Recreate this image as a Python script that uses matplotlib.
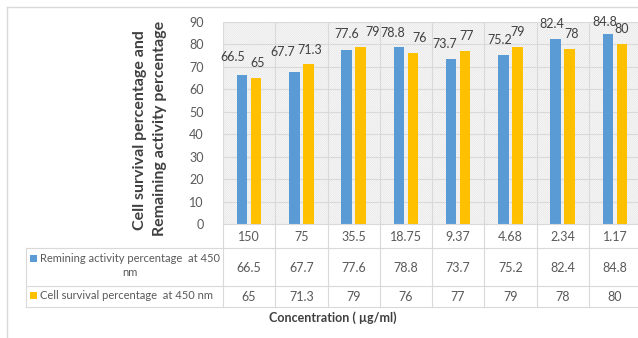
import matplotlib
matplotlib.use("Agg")
import matplotlib.pyplot as plt
import numpy as np
from matplotlib.patches import Rectangle
from matplotlib.lines import Line2D
from matplotlib.transforms import blended_transform_factory

plt.rcParams['font.family'] = ['Lato', 'DejaVu Sans']

# ---- data ----
concentrations = ["150", "75", "35.5", "18.75", "9.37", "4.68", "2.34", "1.17"]
remaining_activity = [66.5, 67.7, 77.6, 78.8, 73.7, 75.2, 82.4, 84.8]
cell_survival = [65, 71.3, 79, 76, 77, 79, 78, 80]
series_names = ["Remining activity percentage  at 450\nnm",
                "Cell survival percentage  at 450 nm"]
y_ticks = [0, 10, 20, 30, 40, 50, 60, 70, 80, 90]

# label nudges (pixels) for data labels: (dx, dy above bar top)
blue_nudge = [(-9, 18), (-12, 20), (0, 16), (-6, 14), (-6, 15), (-4, 15), (-4, 15), (-3, 12)]
yel_nudge = [(1, 15), (1, 14), (12, 15), (7, 15), (1, 15), (0, 15), (2, 15), (0, 15)]

BLUE = "#5B9BD5"
YEL = "#FFC000"
TXT = "#595959"
GRID = "#D9D9D9"

W, H = 638, 338
fig = plt.figure(figsize=(W / 100, H / 100), dpi=100)

def fx(x):
    return x / W

def fy(y):
    return 1 - y / H

left, right, top, bottom = 223, 641, 22, 224
ax = fig.add_axes([fx(left), fy(bottom), (right - left) / W, (bottom - top) / H])
n = len(concentrations)
x = np.arange(n)
ax.set_xlim(-0.5, n - 0.5)
ax.set_ylim(0, 90)

# hatched background
plt.rcParams['hatch.linewidth'] = 0.5
bg = Rectangle((0, 0), 1, 1, transform=ax.transAxes, facecolor="white",
               edgecolor="#E3E3E3", hatch="/" * 18, lw=0, zorder=0)
ax.add_patch(bg)

for t in y_ticks[1:]:
    ax.axhline(t, color=GRID, lw=0.8, zorder=1)
for b in np.arange(-0.5, n + 0.5, 1):
    ax.axvline(b, color=GRID, lw=0.8, zorder=1)

bw = 0.2
off = 0.135
ax.bar(x - off, remaining_activity, bw, color=BLUE, zorder=3)
ax.bar(x + off, cell_survival, bw, color=YEL, zorder=3)

for i in range(n):
    ax.annotate(f"{remaining_activity[i]:g}", (x[i] - off, remaining_activity[i]),
                xytext=blue_nudge[i], textcoords="offset pixels",
                ha="center", va="center", fontsize=9, color="#404040", zorder=4)
    ax.annotate(f"{cell_survival[i]:g}", (x[i] + off, cell_survival[i]),
                xytext=yel_nudge[i], textcoords="offset pixels",
                ha="center", va="center", fontsize=9, color="#404040", zorder=4)

ax.set_yticks(y_ticks)
ax.set_yticklabels([str(t) for t in y_ticks], fontsize=9, color=TXT)
ax.tick_params(axis="y", length=0, pad=14)
ax.set_xticks([])
for s in ax.spines.values():
    s.set_visible(False)

# ---- data table ----
tr = blended_transform_factory(ax.transData, fig.transFigure)

def hline(y, x0, x1):
    fig.add_artist(Line2D([fx(x0), fx(x1)], [fy(y), fy(y)], color=GRID, lw=0.8))

def vline(xp, y0, y1):
    fig.add_artist(Line2D([fx(xp), fx(xp)], [fy(y0), fy(y1)], color=GRID, lw=0.8))

hline(224, left, right)
hline(248, 26, right)
hline(286, 26, right)
hline(307, 26, right)
vline(26, 248, 307)
for b in np.arange(-0.5, n + 0.5, 1):
    xp = left + (b + 0.5) * (right - left) / n
    vline(xp, 224, 307)

for i in range(n):
    fig.text(x[i], fy(237), concentrations[i], transform=tr, ha="center",
             va="center", fontsize=9, color=TXT)
    fig.text(x[i], fy(267.5), f"{remaining_activity[i]:g}", transform=tr,
             ha="center", va="center", fontsize=9, color=TXT)
    fig.text(x[i], fy(297), f"{cell_survival[i]:g}", transform=tr,
             ha="center", va="center", fontsize=9, color=TXT)

# legend keys in table
fig.add_artist(Rectangle((fx(30), fy(262)), 7 / W, 7 / H, transform=fig.transFigure,
                         facecolor=BLUE, edgecolor="none"))
fig.add_artist(Rectangle((fx(30), fy(299)), 7 / W, 7 / H, transform=fig.transFigure,
                         facecolor=YEL, edgecolor="none"))
l1, l2 = series_names[0].split("\n")
fig.text(fx(40), fy(258), l1, ha="left", va="center", fontsize=8.0, color=TXT)
fig.text(fx(130), fy(273), l2, ha="center", va="center", fontsize=8.0, color=TXT)
fig.text(fx(40), fy(295.5), series_names[1], ha="left", va="center", fontsize=8.0, color=TXT)

# axis titles
fig.text(fx(140), fy(130), "Cell survival percentage and", rotation=90,
         ha="center", va="center", fontsize=11.5, fontweight="bold", color="#404040")
fig.text(fx(160), fy(128), "Remaining activity percentage", rotation=90,
         ha="center", va="center", fontsize=11.5, fontweight="bold", color="#404040")
fig.text(fx(333), fy(318), "Concentration ( µg/ml)", ha="center", va="center",
         fontsize=9, fontweight="bold", color="#404040")

# outer chart border
fig.add_artist(Line2D([fx(7), fx(7)], [fy(7), 0], color=GRID, lw=1))
fig.add_artist(Line2D([fx(7), 1], [fy(7), fy(7)], color=GRID, lw=1))

fig.savefig("out.png", dpi=100, facecolor="white")
